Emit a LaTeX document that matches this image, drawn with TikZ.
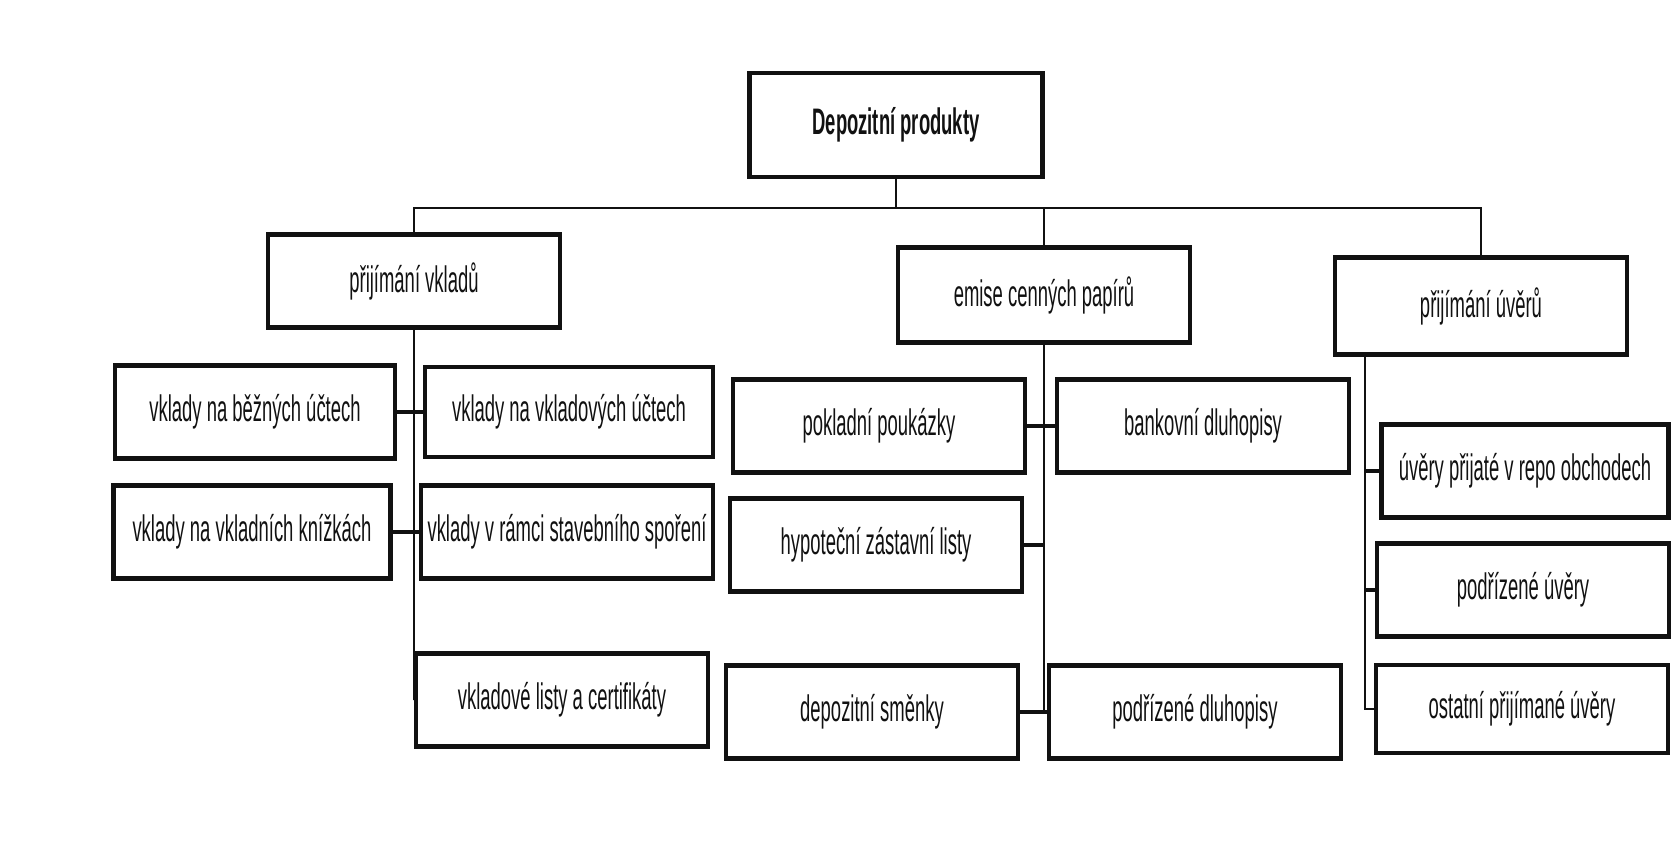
\documentclass[tikz,border=0pt]{standalone}
\usepackage{fontspec}
\setmainfont{Liberation Sans}[FakeStretch=0.5]
\usetikzlibrary{positioning}
\definecolor{Ink}{HTML}{111111}
\tikzset{
    boxnode/.style={rectangle, draw=Ink, line width=2.4pt, minimum width=58.4mm, minimum height=18.6mm, inner sep=0pt, align=center, text=Ink, font=\fontsize{21}{25}\selectfont},
    topnode/.style={boxnode, line width=2.8pt, font=\bfseries\fontsize{21}{25}\selectfont},
    link/.style={line width=1.2pt, color=Ink},
    stub/.style={line width=2pt, color=Ink},
}
\begin{document}
\begin{tikzpicture}[x=0.2mm, y=-0.2mm]
    \useasboundingbox (0,0) rectangle (1673,852);
    % root
    \node[topnode, minimum width=58.6mm, minimum height=20.8mm] (root) at (896,125) {Depozitní produkty};
    \coordinate (bar) at (896,208);

    % groups
    \node[boxnode] (vklady) at (414,281) {přijímání vkladů};
    \node[boxnode, minimum height=19mm] (emise) at (1044,295) {emise cenných papírů};
    \node[boxnode, minimum height=19.4mm] (uvery) at (1481,306) {přijímání úvěrů};

    \draw[link] (root.south) -- (bar);
    \draw[link] (vklady.north) |- (uvery.north |- bar) -- (uvery.north);
    \draw[link] (emise.north) -- (emise.north |- bar);

    % deposits
    \node[boxnode, minimum width=56mm] (bezne) at (255,412) {vklady na běžných účtech};
    \node[boxnode, minimum width=57.6mm, minimum height=18mm] (vkucty) at (569,412) {vklady na vkladových účtech};
    \node[boxnode, minimum width=55.4mm] (knizky) at (252,532) {vklady na vkladních knížkách};
    \node[boxnode] (stavebni) at (567,532) {vklady v rámci stavebního spoření};
    \node[boxnode] (vklisty) at (562,700) {vkladové listy a certifikáty};

    \draw[link] (vklady.south) |- (vklisty.west);
    \draw[stub] (bezne.east) -- (vkucty.west);
    \draw[stub] (knizky.east) -- (stavebni.west);

    % securities
    \node[boxnode] (pokladni) at (879,426) {pokladní poukázky};
    \node[boxnode] (bankovni) at (1203,426) {bankovní dluhopisy};
    \node[boxnode] (hypotecni) at (876,545) {hypoteční zástavní listy};
    \node[boxnode] (smenky) at (872,712) {depozitní směnky};
    \node[boxnode] (podrdluh) at (1195,712) {podřízené dluhopisy};

    \draw[link] (emise.south) -- (emise.south |- smenky.east);
    \draw[stub] (pokladni.east) -- (bankovni.west);
    \draw[stub] (hypotecni.east) -- (hypotecni.east -| emise.south);
    \draw[stub] (smenky.east) -- (podrdluh.west);

    % loans
    \node[boxnode, minimum width=57.4mm] (repo) at (1525,471) {úvěry přijaté v repo obchodech};
    \node[boxnode] (podruv) at (1523,590) {podřízené úvěry};
    \node[boxnode, minimum height=17.6mm] (ostatni) at (1522,709) {ostatní přijímané úvěry};

    \coordinate (ustem) at ([xshift=6.4mm]uvery.south west);
    \draw[link] (ustem) |- (ostatni.west);
    \draw[stub] (ustem |- repo.west) -- (repo.west);
    \draw[stub] (ustem |- podruv.west) -- (podruv.west);
\end{tikzpicture}
\end{document}
